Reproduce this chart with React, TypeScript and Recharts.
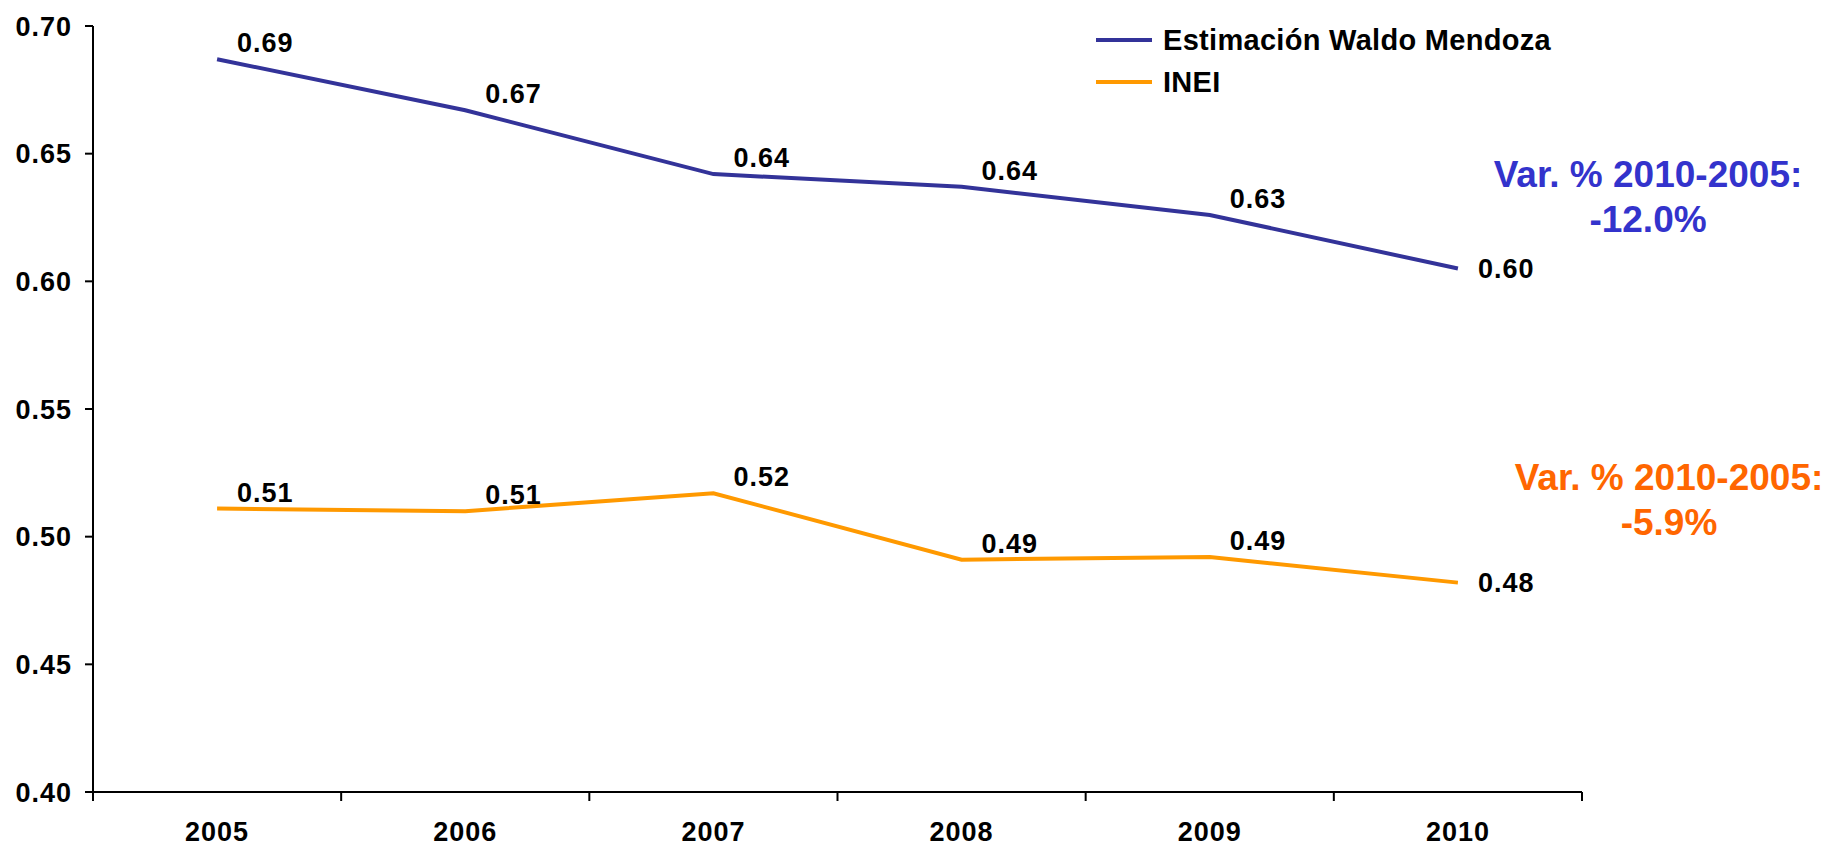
import { LineChart, Line, XAxis, YAxis, Legend } from "recharts";

const years = ["2005", "2006", "2007", "2008", "2009", "2010"];
const waldo = [0.687, 0.667, 0.642, 0.637, 0.626, 0.605];
const inei = [0.511, 0.51, 0.517, 0.491, 0.492, 0.482];
const yTicks = [0.4, 0.45, 0.5, 0.55, 0.6, 0.65, 0.7];
// category boundaries (years.length + 1 of them) for the tick marks
const edgeTicks = [0, 1, 2, 3, 4, 5, 6];

const seriesNames = {
  waldo: "Estimación Waldo Mendoza",
  inei: "INEI",
};

const notes = [
  { title: "Var. % 2010-2005:", value: "-12.0%", color: "#3333CC", left: 1478, top: 152 },
  { title: "Var. % 2010-2005:", value: "-5.9%", color: "#FF6600", left: 1499, top: 455 },
];

const data = years.map((year, i) => ({ year, idx: i, waldo: waldo[i], inei: inei[i] }));

const FONT = "'Liberation Sans', Arial, sans-serif";

const ValueLabel = (props: any) => {
  const { x, y, value, index } = props;
  const last = index === years.length - 1;
  return (
    <text
      x={x + 20}
      y={last ? y + 2 : y - 14}
      dominantBaseline="middle"
      fontFamily={FONT}
      fontWeight={700}
      fontSize={27}
      letterSpacing={1}
      fill="#000"
    >
      {Number(value).toFixed(2)}
    </text>
  );
};

const LegendBox = () => (
  <div style={{ fontFamily: FONT, fontWeight: 700, fontSize: 29, letterSpacing: 0.3 }}>
    {[
      { name: seriesNames.waldo, color: "#333399" },
      { name: seriesNames.inei, color: "#FF9900" },
    ].map((item) => (
      <div key={item.name} style={{ display: "flex", alignItems: "center", height: 42 }}>
        <span style={{ width: 56, height: 4, background: item.color, marginRight: 11 }} />
        <span>{item.name}</span>
      </div>
    ))}
  </div>
);

export default function App() {
  return (
    <div style={{ position: "absolute", left: 0, top: 0, width: 1828, height: 848, background: "#fff" }}>
      <LineChart
        width={1828}
        height={848}
        data={data}
        margin={{ top: 26, right: 246, left: 0, bottom: 16 }}
      >
        <XAxis
          xAxisId="edges"
          dataKey="idx"
          type="number"
          domain={[0, years.length]}
          allowDataOverflow
          ticks={edgeTicks}
          interval={0}
          tickFormatter={() => ""}
          height={1}
          tickSize={9}
          axisLine={{ stroke: "#000", strokeWidth: 2 }}
          tickLine={{ stroke: "#000", strokeWidth: 2 }}
        />
        <XAxis
          xAxisId="years"
          dataKey="year"
          scale="band"
          height={39}
          axisLine={false}
          tickLine={false}
          tickSize={0}
          tickMargin={29}
          tick={{ fontFamily: FONT, fontWeight: 700, fontSize: 27, fill: "#000", letterSpacing: 1 }}
        />
        <YAxis
          domain={[0.4, 0.7]}
          ticks={yTicks}
          width={93}
          tickSize={8}
          tickMargin={13}
          tickFormatter={(v: number) => v.toFixed(2)}
          axisLine={{ stroke: "#000", strokeWidth: 2 }}
          tickLine={{ stroke: "#000", strokeWidth: 2 }}
          tick={{ fontFamily: FONT, fontWeight: 700, fontSize: 27, fill: "#000", letterSpacing: 1 }}
        />
        <Legend
          layout="horizontal"
          verticalAlign="middle"
          align="center"
          content={<LegendBox />}
          wrapperStyle={{ position: "absolute", left: 1096, top: 19, width: 540 }}
        />
        <Line
          xAxisId="years"
          dataKey="waldo"
          name={seriesNames.waldo}
          stroke="#333399"
          strokeWidth={4}
          dot={false}
          isAnimationActive={false}
          label={<ValueLabel />}
        />
        <Line
          xAxisId="years"
          dataKey="inei"
          name={seriesNames.inei}
          stroke="#FF9900"
          strokeWidth={4}
          dot={false}
          isAnimationActive={false}
          label={<ValueLabel />}
        />
      </LineChart>
      {notes.map((n) => (
        <div
          key={n.value}
          style={{
            position: "absolute",
            left: n.left,
            top: n.top,
            width: 340,
            textAlign: "center",
            fontFamily: FONT,
            fontWeight: 700,
            fontSize: 37,
            lineHeight: "45px",
            color: n.color,
          }}
        >
          <div>{n.title}</div>
          <div>{n.value}</div>
        </div>
      ))}
    </div>
  );
}
